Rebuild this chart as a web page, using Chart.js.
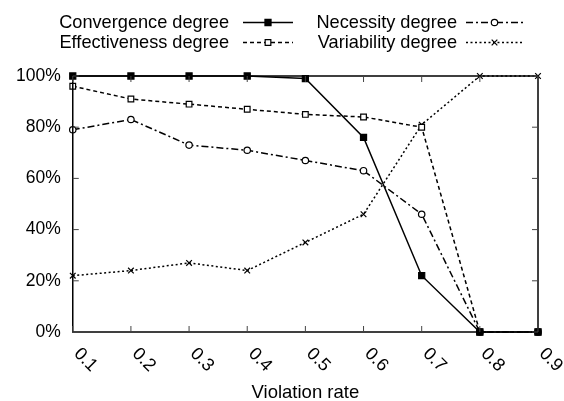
<!DOCTYPE html>
<html>
<head>
<meta charset="utf-8">
<script src="https://cdn.jsdelivr.net/npm/chart.js@4/dist/chart.umd.min.js"></script>
<style>
  html, body { margin: 0; padding: 0; background: #fff; }
</style>
</head>
<body>
<canvas id="myChart" width="564" height="401"></canvas>
<script>
// Data
const rates = ['0.1', '0.2', '0.3', '0.4', '0.5', '0.6', '0.7', '0.8', '0.9'];
const convergence = [100, 100, 100, 100, 99, 76, 22, 0, 0];
const effectiveness = [96, 91, 89, 87, 85, 84, 80, 0, 0];
const necessity = [79, 83, 73, 71, 67, 63, 46, 0, 0];
const variability = [22, 24, 27, 24, 35, 46, 81, 100, 100];
const yTicks = [0, 20, 40, 60, 80, 100];

const FONT = '"Liberation Sans", Arial, sans-serif';
const ctx = document.getElementById("myChart").getContext("2d");

// legend layout: [dataset index, column, row]
const legendSlots = [[0, 0, 0], [2, 1, 0], [1, 0, 1], [3, 1, 1]];

// draws the box, inward ticks, rotated x labels, x title and the legend
const gnuplotLook = {
  id: 'gnuplotLook',
  afterDraw(chart) {
    const c = chart.ctx;
    const area = chart.chartArea;
    const xs = chart.scales.x;
    const ys = chart.scales.y;
    c.save();
    c.strokeStyle = '#000';
    c.lineWidth = 1.5;
    c.setLineDash([]);
    c.strokeRect(area.left, area.top, area.right - area.left, area.bottom - area.top);

    // inward ticks
    c.lineWidth = 1;
    c.strokeStyle = '#444';
    c.beginPath();
    rates.forEach((r, i) => {
      const px = xs.getPixelForTick(i);
      c.moveTo(px, area.bottom); c.lineTo(px, area.bottom - 6);
      c.moveTo(px, area.top); c.lineTo(px, area.top + 6);
    });
    yTicks.forEach(v => {
      const py = ys.getPixelForValue(v);
      c.moveTo(area.left, py); c.lineTo(area.left + 6, py);
      c.moveTo(area.right, py); c.lineTo(area.right - 6, py);
    });
    c.stroke();

    // rotated x tick labels
    c.fillStyle = '#000';
    c.font = '18px ' + FONT;
    c.textAlign = 'left';
    c.textBaseline = 'middle';
    rates.forEach((r, i) => {
      const px = xs.getPixelForTick(i);
      c.save();
      c.translate(px + 4, area.bottom + 19);
      c.rotate(Math.PI / 4);
      c.fillText(xs.getLabelForValue(i), 0, 0);
      c.restore();
    });

    // x title
    c.font = '18.5px ' + FONT;
    c.textAlign = 'center';
    c.textBaseline = 'alphabetic';
    c.fillText('Violation rate', (area.left + area.right) / 2, 398);

    // legend
    c.font = '18.2px ' + FONT;
    c.textBaseline = 'middle';
    const textRight = [229, 457];
    const sample = [[243, 293], [466, 523]];
    const rowY = [22.5, 42.5];
    legendSlots.forEach(([d, col, row]) => {
      const ds = chart.data.datasets[d];
      const y = rowY[row];
      c.fillStyle = '#000';
      c.textAlign = 'right';
      c.fillText(ds.label, textRight[col], y);
      c.strokeStyle = '#000';
      c.lineWidth = ds.borderWidth;
      c.setLineDash(ds.borderDash || []);
      c.beginPath();
      c.moveTo(sample[col][0], y);
      c.lineTo(sample[col][1], y);
      c.stroke();
      c.setLineDash([]);
      c.lineWidth = 1.2;
      c.fillStyle = ds.pointBackgroundColor;
      Chart.helpers.drawPoint(c, {
        pointStyle: ds.pointStyle,
        radius: ds.pointRadius,
        rotation: 0,
        borderWidth: 1.2
      }, (sample[col][0] + sample[col][1]) / 2, y);
    });
    c.restore();
  }
};

function series(label, values, dash, style, fill, radius) {
  return {
    label: label,
    data: values,
    borderColor: '#000',
    borderWidth: 1.5,
    borderDash: dash,
    pointStyle: style,
    pointRadius: radius,
    pointBorderWidth: 1.2,
    pointBorderColor: '#000',
    pointBackgroundColor: fill,
    tension: 0,
    clip: false
  };
}

const chart = new Chart(ctx, {
  type: 'line',
  data: {
    labels: rates,
    datasets: [
      series('Convergence degree', convergence, [], 'rect', '#000', 4.3),
      series('Effectiveness degree', effectiveness, [4, 3], 'rect', '#fff', 4),
      series('Necessity degree', necessity, [7, 3, 2, 3], 'circle', '#fff', 3.2),
      series('Variability degree', variability, [2, 2.5], 'crossRot', '#000', 4)
    ]
  },
  options: {
    responsive: false,
    animation: false,
    layout: { padding: { left: 4, right: 26, top: 76, bottom: 69 } },
    plugins: { legend: { display: false }, tooltip: { enabled: false } },
    scales: {
      x: {
        offset: false,
        grid: { display: false, drawTicks: false },
        border: { display: false },
        ticks: { display: false }
      },
      y: {
        min: 0,
        max: 100,
        grid: { display: false, drawTicks: false },
        border: { display: false },
        ticks: {
          stepSize: 20,
          padding: 12,
          color: '#000',
          font: { size: 17.5, family: FONT },
          callback: v => v + '%'
        }
      }
    }
  },
  plugins: [gnuplotLook]
});
</script>
</body>
</html>
